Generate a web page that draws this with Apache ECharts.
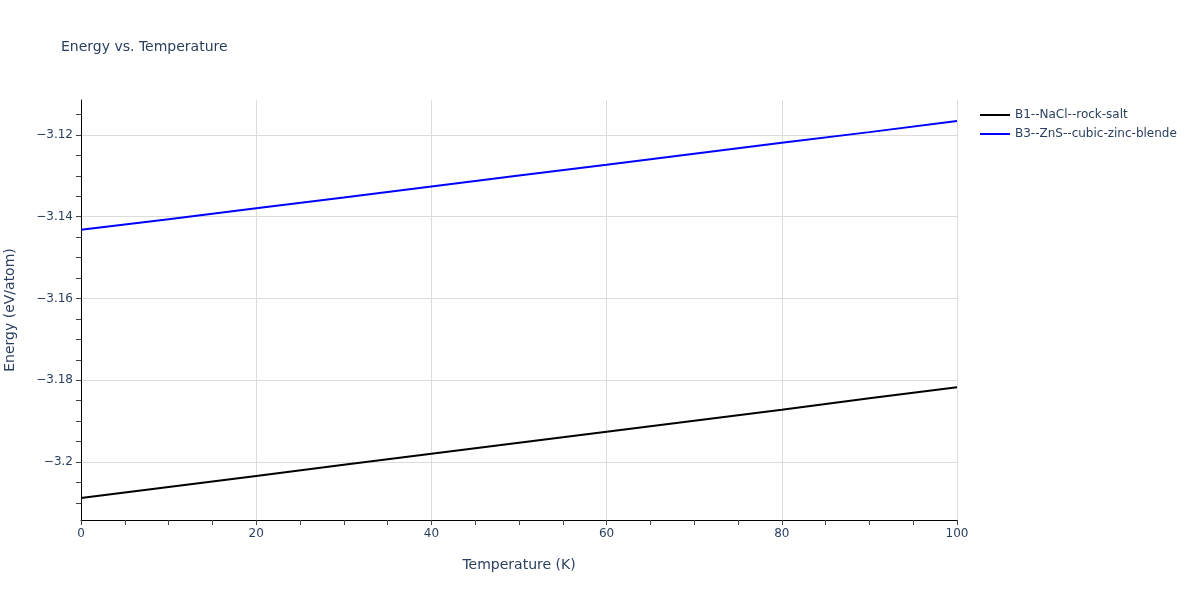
<!DOCTYPE html>
<html>
<head>
<meta charset="utf-8">
<script src="https://cdn.jsdelivr.net/npm/echarts@6/dist/echarts.min.js"></script>
<style>html,body{margin:0;padding:0;background:#fff}#c{width:1200px;height:600px}</style>
</head>
<body>
<div id="c"></div>
<script>
const temperatures = [0, 10, 20, 30, 40, 50, 60, 70, 80, 90, 100];
const rockSalt = [-3.2088, -3.2061, -3.2034, -3.2007, -3.1980, -3.1953, -3.1926, -3.1899, -3.1872, -3.1844, -3.1817];
const zincBlende = [-3.1432, -3.1406, -3.1379, -3.1353, -3.1326, -3.1299, -3.1273, -3.1246, -3.1219, -3.1193, -3.1166];
const seriesNames = ['B1--NaCl--rock-salt', 'B3--ZnS--cubic-zinc-blende'];
const yTicks = [-3.2, -3.18, -3.16, -3.14, -3.12];
const yMinorTicks = [-3.21, -3.205, -3.195, -3.19, -3.185, -3.175, -3.17, -3.165, -3.155, -3.15, -3.145, -3.135, -3.13, -3.125, -3.115];

const font = '"DejaVu Sans", Verdana, sans-serif';
const textColor = '#2a3f5f';
const yMin = -3.21419, yMax = -3.11144;
const chart = echarts.init(document.getElementById('c'), null, {renderer: 'canvas'});
chart.setOption({
  animation: false,
  backgroundColor: '#fff',
  title: {
    text: 'Energy vs. Temperature',
    left: 56, top: 35,
    textStyle: {fontFamily: font, fontSize: 14, fontWeight: 'normal', color: textColor}
  },
  legend: {
    orient: 'vertical',
    left: 975, top: 104,
    itemWidth: 30, itemHeight: 2, itemGap: 7,
    textStyle: {fontFamily: font, fontSize: 12, color: textColor},
    data: seriesNames.map(n => ({name: n, icon: 'rect'}))
  },
  grid: {left: 81, right: 243, top: 100, bottom: 80, containLabel: false, outerBoundsMode: 'none'},
  xAxis: {
    type: 'value', min: 0, max: 100, interval: 20,
    name: 'Temperature (K)', nameLocation: 'middle', nameGap: 38,
    nameTextStyle: {fontFamily: font, fontSize: 14, color: textColor},
    axisLine: {show: true, onZero: false, lineStyle: {color: '#000', width: 1}},
    axisTick: {show: true, length: 5, lineStyle: {color: '#444'}},
    minorTick: {show: true, splitNumber: 4, length: 5, lineStyle: {color: '#444'}},
    axisLabel: {fontFamily: font, fontSize: 12, color: textColor, margin: 8},
    splitLine: {show: true, lineStyle: {color: '#dcdcdc', width: 1}}
  },
  yAxis: [
    {
      type: 'value', min: yMin, max: yMax, position: 'left',
      name: 'Energy (eV/atom)', nameLocation: 'middle', nameGap: 64,
      nameTextStyle: {fontFamily: font, fontSize: 14, color: textColor},
      axisLine: {show: true, onZero: false, lineStyle: {color: '#000', width: 1}},
      axisTick: {show: true, length: 5, customValues: yTicks, lineStyle: {color: '#444'}},
      axisLabel: {
        fontFamily: font, fontSize: 12, color: textColor, margin: 8,
        customValues: yTicks,
        formatter: v => String(+v.toFixed(4)).replace('-', '\u2212')
      },
      splitLine: {show: true, lineStyle: {color: '#dcdcdc', width: 1}}
    },
    {
      type: 'value', min: yMin, max: yMax, position: 'left', offset: 0,
      axisLine: {show: false},
      axisTick: {show: true, length: 5, customValues: yMinorTicks, lineStyle: {color: '#444'}},
      axisLabel: {show: false, customValues: yMinorTicks},
      splitLine: {show: false}
    }
  ],
  series: [
    {
      name: seriesNames[0], type: 'line', symbol: 'none', yAxisIndex: 0,
      lineStyle: {color: '#000', width: 2}, itemStyle: {color: '#000'},
      data: temperatures.map((t, i) => [t, rockSalt[i]])
    },
    {
      name: seriesNames[1], type: 'line', symbol: 'none', yAxisIndex: 0,
      lineStyle: {color: '#0000ff', width: 2}, itemStyle: {color: '#0000ff'},
      data: temperatures.map((t, i) => [t, zincBlende[i]])
    }
  ]
});
</script>
</body>
</html>
